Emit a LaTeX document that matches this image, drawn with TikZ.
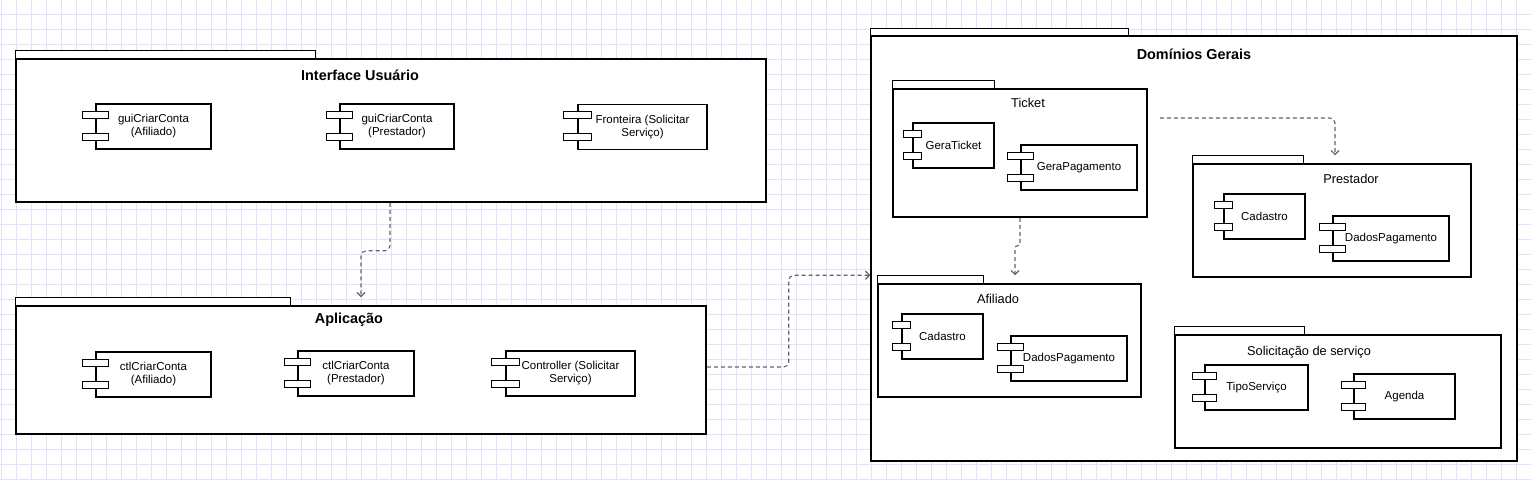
\documentclass[tikz,border=0pt]{standalone}
\usepackage{fontspec}
\setmainfont{Liberation Sans}
\usetikzlibrary{arrows.meta}

\begin{document}
\begin{tikzpicture}[x=1pt,y=-1pt,
	pkg/.style={draw,fill=white,line width=1.5pt,inner sep=0pt},
	comp/.style={draw,fill=white,line width=1.3pt,inner sep=0pt,minimum height=45pt,align=center,font=\fontsize{11.5}{13}\selectfont},
	port/.style={draw,fill=white,line width=1.2pt},
	bigtitle/.style={font=\fontsize{14.4}{16}\selectfont\bfseries},
	subtitle/.style={font=\fontsize{12.8}{15}\selectfont},
	dep/.style={draw={rgb,255:red,100;green,100;blue,100},line width=1.1pt,dash pattern=on 4pt off 3pt,rounded corners=5pt,-{Straight Barb[length=4pt,width=8pt]}},
	gridline/.style={draw={rgb,255:red,226;green,224;blue,252},line width=0.8pt}]

	\fill[white] (0,0) rectangle (1531,480);
	\useasboundingbox (0,0) rectangle (1531,480);
	\foreach \x in {1,16,...,1531} \draw[gridline] (\x,0) -- (\x,480);
	\foreach \y in {14,29,...,480} \draw[gridline] (0,\y) -- (1531,\y);

%	packages
	\node[pkg,minimum width=750pt,minimum height=143pt] (iface) at (391,130.5) {};
	\draw[pkg] (iface.north west) rectangle ++(300,-8);
	\node[bigtitle] (ifaceT) at (360,75) {Interface Usuário};

	\node[pkg,minimum width=690pt,minimum height=128pt] (app) at (361,370) {};
	\draw[pkg] (app.north west) rectangle ++(275,-8);
	\node[bigtitle] (appT) at (349,320) {Aplicação};

	\node[pkg,minimum width=646pt,minimum height=425pt] (dom) at (1194,248.5) {};
	\draw[pkg] (dom.north west) rectangle ++(258,-7);
	\node[bigtitle] (domT) at (1194,54) {Domínios Gerais};

	\node[pkg,minimum width=254pt,minimum height=128pt] (ticket) at (1020,153) {};
	\draw[pkg] (ticket.north west) rectangle ++(102,-8);
	\node[subtitle] (ticketT) at (1028,103) {Ticket};

	\node[pkg,minimum width=263pt,minimum height=113pt] (afil) at (1009.5,340.5) {};
	\draw[pkg] (afil.north west) rectangle ++(106,-8);
	\node[subtitle] (afilT) at (998,299) {Afiliado};

	\node[pkg,minimum width=278pt,minimum height=113pt] (prest) at (1332,220.5) {};
	\draw[pkg] (prest.north west) rectangle ++(111,-8);
	\node[subtitle] (prestT) at (1351,179) {Prestador};

	\node[pkg,minimum width=326pt,minimum height=113pt] (solic) at (1338,391.5) {};
	\draw[pkg] (solic.north west) rectangle ++(130,-8);
	\node[subtitle] (solicT) at (1309,352) {Solicitação de serviço};

%	components
	\node[comp,minimum width=115pt] (guiAfil) at (153.5,126.5) {guiCriarConta\\(Afiliado)};
	\node[comp,minimum width=114pt] (guiPrest) at (397,126.5) {guiCriarConta\\(Prestador)};
	\node[comp,minimum width=129pt] (guiFront) at (642.5,127) {Fronteira (Solicitar\\Serviço)};

	\node[comp,minimum width=115pt] (ctlAfil) at (153.5,374.5) {ctlCriarConta\\(Afiliado)};
	\node[comp,minimum width=116pt] (ctlPrest) at (356,373.5) {ctlCriarConta\\(Prestador)};
	\node[comp,minimum width=129pt] (ctlServ) at (570.5,373.5) {Controller (Solicitar\\Serviço)};

	\node[comp,minimum width=81pt] (geraTicket) at (953.5,145.5) {GeraTicket};
	\node[comp,minimum width=116pt] (geraPag) at (1079,167.5) {GeraPagamento};

	\node[comp,minimum width=81pt] (afilCad) at (942.5,336.5) {Cadastro};
	\node[comp,minimum width=116pt] (afilDados) at (1069,358.5) {DadosPagamento};

	\node[comp,minimum width=81pt] (prestCad) at (1264.5,216.5) {Cadastro};
	\node[comp,minimum width=116pt] (prestDados) at (1391,238.5) {DadosPagamento};

	\node[comp,minimum width=103pt] (tipoServ) at (1256.5,387.5) {TipoServiço};
	\node[comp,minimum width=101pt] (agenda) at (1404.5,396.5) {Agenda};

%	ports
	\foreach \c/\w in {guiAfil/13,guiPrest/13,guiFront/14,ctlAfil/13,ctlPrest/13,ctlServ/14,geraTicket/9,geraPag/13,afilCad/9,afilDados/13,prestCad/9,prestDados/13,tipoServ/12,agenda/12}{
		\draw[port] ([xshift=-\w pt,yshift=-8pt]\c.north west) rectangle ++(2*\w,7);
		\draw[port] ([xshift=-\w pt,yshift=-30pt]\c.north west) rectangle ++(2*\w,7);
	}

%	dependencies
	\coordinate (afilTab) at ([yshift=8pt]afil.north west);
	\draw[dep] ([xshift=-1pt]iface.south) -- ++(0,48) -| ([yshift=8pt]app.north);
	\draw[dep] ([yshift=3pt]app.east) -- ++(82,0) |- (dom.west |- afilTab);
	\draw[dep,rounded corners=2.5pt] (ticket.south) -- ++(0,28) -| ([xshift=-5pt,yshift=8pt]ticket.south |- afil.north);
	\draw[dep] ([xshift=12pt,yshift=35pt]ticket.east) -| ([xshift=3pt,yshift=8pt]prest.north);

\end{tikzpicture}
\end{document}
